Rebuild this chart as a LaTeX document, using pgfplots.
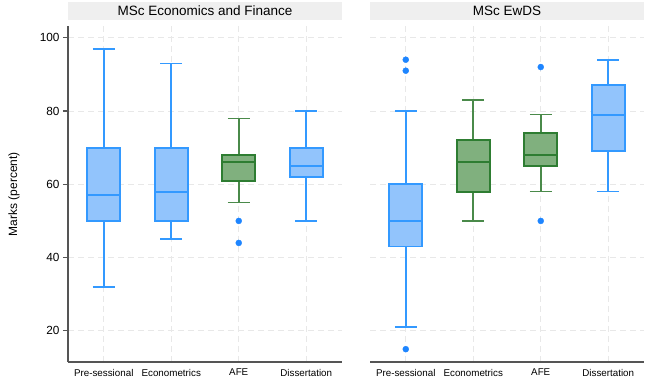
\documentclass[border=0pt]{standalone}
\usepackage{pgfplots}
\pgfplotsset{compat=1.18}
\usepgfplotslibrary{statistics}
\usepackage{fontspec}
\setmainfont{Liberation Sans}
\definecolor{bedge}{HTML}{3399FF}
\definecolor{bfill}{HTML}{92C4FC}
\definecolor{gedge}{HTML}{2E7D32}
\definecolor{gwhisk}{HTML}{4A8A4A}
\definecolor{gfill}{HTML}{80B07E}
\definecolor{odot}{HTML}{1E85FF}
\definecolor{strip}{HTML}{EFEFEF}
\definecolor{axgray}{HTML}{555555}
\pgfplotsset{
  panel/.style={
    scale only axis, width=274pt, height=336pt,
    xmin=-0.53, xmax=3.53, ymin=11.5, ymax=103.2,
    xtick={0,1,2,3},
    xticklabels={Pre-sessional,Econometrics,AFE,Dissertation},
    ytick={20,40,60,80,100},
    xmajorgrids, ymajorgrids,
    major grid style={black!9, line width=1pt, dash pattern=on 6pt off 4pt},
    axis x line*=bottom, axis y line*=left,
    axis line style={axgray, line width=1.2pt},
    x tick style={draw=none},
    tick align=outside, major tick length=5pt,
    y tick style={axgray, line width=1.2pt},
    xticklabel style={font=\fontsize{9.8}{11}\selectfont, text=black, yshift=1.5pt},
    yticklabel style={font=\fontsize{11.8}{13}\selectfont, text=black},
    /pgf/number format/assume math mode=true,
    boxplot/draw direction=y,
    title style={at={(axis description cs:0.5,1)}, anchor=south, fill=strip,
      minimum width=274pt, minimum height=18pt, inner sep=0pt, yshift=0pt,
      font=\fontsize{13.5}{15}\selectfont, text=black},
    clip=false,
  },
  bbox/.style={draw=bedge, fill=bfill, line width=1.8pt, solid, mark=none,
    boxplot/every box/.style={draw=bedge, fill=bfill, line width=1.8pt},
    boxplot/every median/.style={draw=bedge, line width=1.8pt},
    boxplot/every whisker/.style={draw=bedge, line width=1.6pt}},
  gbox/.style={draw=gedge, fill=gfill, line width=1.8pt, solid, mark=none,
    boxplot/every box/.style={draw=gedge, fill=gfill, line width=1.8pt},
    boxplot/every median/.style={draw=gedge, line width=1.8pt},
    boxplot/every whisker/.style={draw=gwhisk, line width=1.6pt}},
  outl/.style={only marks, mark=*, mark size=3pt, draw=none, fill=odot, color=odot},
}
\begin{document}
\begin{tikzpicture}
\useasboundingbox (-68pt,-21pt) rectangle (583pt,362pt);
% Left panel
\begin{axis}[panel, at={(0pt,0pt)}, anchor=south west,
  title={MSc Economics and Finance},
  ylabel={Marks (percent)},
  every axis y label/.style={at={(axis description cs:0,0.5)}, xshift=-54pt, rotate=90, anchor=center,
    font=\fontsize{12}{13}\selectfont, text=black}]
\addplot[bbox, boxplot prepared={draw position=0, median=57, upper quartile=70, lower quartile=50,
  upper whisker=97, lower whisker=32, box extend=0.49, whisker extend=0.32}] coordinates {};
\addplot[bbox, boxplot prepared={draw position=1, median=58, upper quartile=70, lower quartile=50,
  upper whisker=93, lower whisker=45, box extend=0.49, whisker extend=0.32}] coordinates {};
\addplot[gbox, boxplot prepared={draw position=2, median=66, upper quartile=68, lower quartile=61,
  upper whisker=78, lower whisker=55, box extend=0.49, whisker extend=0.32}] coordinates {};
\addplot[bbox, boxplot prepared={draw position=3, median=65, upper quartile=70, lower quartile=62,
  upper whisker=80, lower whisker=50, box extend=0.49, whisker extend=0.32}] coordinates {};
\addplot[outl] coordinates {(2,50) (2,44)};
\end{axis}
% Right panel
\begin{axis}[panel, at={(302pt,0pt)}, anchor=south west,
  title={MSc EwDS},
  yticklabels={}, y tick style={draw=none}, y axis line style={draw=none}]
\addplot[bbox, boxplot prepared={draw position=0, median=50, upper quartile=60, lower quartile=43,
  upper whisker=80, lower whisker=21, box extend=0.49, whisker extend=0.32}] coordinates {};
\addplot[gbox, boxplot prepared={draw position=1, median=66, upper quartile=72, lower quartile=58,
  upper whisker=83, lower whisker=50, box extend=0.49, whisker extend=0.32}] coordinates {};
\addplot[gbox, boxplot prepared={draw position=2, median=68, upper quartile=74, lower quartile=65,
  upper whisker=79, lower whisker=58, box extend=0.49, whisker extend=0.32}] coordinates {};
\addplot[bbox, boxplot prepared={draw position=3, median=79, upper quartile=87, lower quartile=69,
  upper whisker=94, lower whisker=58, box extend=0.49, whisker extend=0.32}] coordinates {};
\addplot[outl] coordinates {(0,94) (0,91) (0,15) (2,92) (2,50)};
\end{axis}
\end{tikzpicture}
\end{document}
